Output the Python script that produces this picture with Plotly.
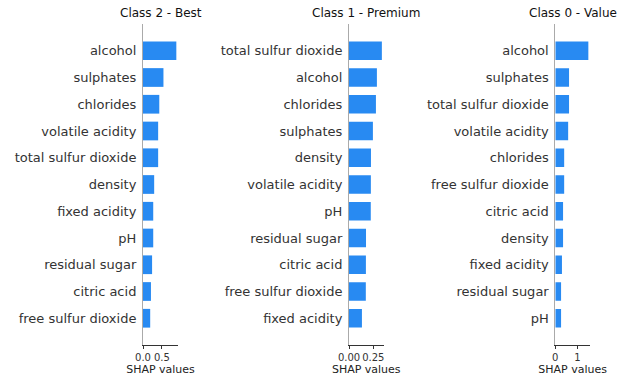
import plotly.graph_objects as go

titles = ["Class 2 - Best", "Class 1 - Premium", "Class 0 - Value"]

features_best = ["alcohol", "sulphates", "chlorides", "volatile acidity", "total sulfur dioxide",
                 "density", "fixed acidity", "pH", "residual sugar", "citric acid", "free sulfur dioxide"]
values_best = [0.88, 0.54, 0.43, 0.40, 0.40, 0.295, 0.27, 0.27, 0.24, 0.21, 0.19]

features_premium = ["total sulfur dioxide", "alcohol", "chlorides", "sulphates", "density",
                    "volatile acidity", "pH", "residual sugar", "citric acid", "free sulfur dioxide", "fixed acidity"]
values_premium = [0.338, 0.287, 0.277, 0.246, 0.226, 0.225, 0.224, 0.175, 0.174, 0.173, 0.133]

features_value = ["alcohol", "sulphates", "total sulfur dioxide", "volatile acidity", "chlorides",
                  "free sulfur dioxide", "citric acid", "density", "fixed acidity", "residual sugar", "pH"]
values_value = [1.49, 0.62, 0.62, 0.58, 0.40, 0.40, 0.35, 0.35, 0.30, 0.26, 0.26]

x_ticks = [[0.0, 0.5], [0.0, 0.25], [0, 1]]
x_ticktext = [["0.0", "0.5"], ["0.00", "0.25"], ["0", "1"]]

panels = [(features_best, values_best), (features_premium, values_premium), (features_value, values_value)]

W, H = 634, 387
px_domains = [(143, 178), (349, 383.5), (555.3, 590)]
ydom = [1 - 345 / H, 1 - 24 / H]

fig = go.Figure()
layout = dict(width=W, height=H, margin=dict(l=0, r=0, t=0, b=0),
              paper_bgcolor="white", plot_bgcolor="white", showlegend=False,
              font=dict(family="DejaVu Sans", color="#333333"), annotations=[])

for i, ((feats, vals), title) in enumerate(zip(panels, titles)):
    n = i + 1
    xa = "x" if n == 1 else f"x{n}"
    ya = "y" if n == 1 else f"y{n}"
    fig.add_trace(go.Bar(x=vals, y=feats, orientation="h", xaxis=xa, yaxis=ya,
                         marker=dict(color="#288AF2", line=dict(width=0)), width=0.7,
                         hoverinfo="x+y"))
    d0, d1 = px_domains[i]
    dom = [d0 / W, d1 / W]
    xmax = max(vals) * 1.05
    layout[f"xaxis{'' if n == 1 else n}"] = dict(
        domain=dom, anchor=ya, range=[0, xmax], showgrid=False, zeroline=False,
        showline=True, linecolor="#333333", linewidth=1,
        ticks="outside", ticklen=3, tickcolor="#333333", tickwidth=1,
        tickvals=x_ticks[i], ticktext=x_ticktext[i],
        tickfont=dict(size=10, color="#333333"),
        title=dict(text="SHAP values", font=dict(size=11, color="#222222"), standoff=3),
        automargin=False, fixedrange=True)
    layout[f"yaxis{'' if n == 1 else n}"] = dict(
        domain=ydom, anchor=xa, type="category", categoryorder="array", categoryarray=feats,
        range=[len(feats), -1], showgrid=False, zeroline=False,
        showline=True, linecolor="#aaaaaa", linewidth=1, ticks="",
        tickfont=dict(size=13, color="#333333"), ticklabelstandoff=3,
        automargin=False, fixedrange=True)
    layout["annotations"].append(dict(
        text=title, x=(dom[0] + dom[1]) / 2, y=1 - 13 / H, xref="paper", yref="paper",
        showarrow=False, xanchor="center", yanchor="middle",
        font=dict(size=12, color="#111111")))

fig.update_layout(**layout)
fig.write_html("out.html", config={"displayModeBar": False},
               post_script="document.body.style.margin='0';document.body.style.overflow='hidden';")
